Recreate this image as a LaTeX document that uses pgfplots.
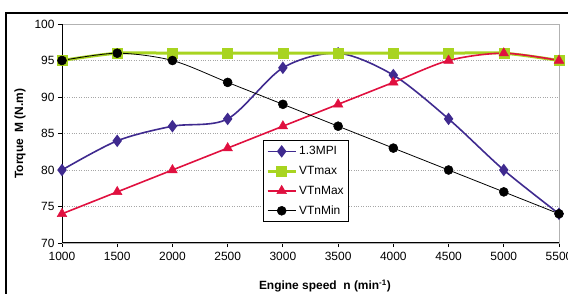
\documentclass[border=0pt]{standalone}
\usepackage{pgfplots}
\pgfplotsset{compat=1.18}
\usepackage{fontspec}
\setmainfont{Liberation Sans}
\definecolor{mpi}{HTML}{3F2A8F}
\definecolor{vtmax}{HTML}{A8D420}
\definecolor{vtnmax}{HTML}{E0103F}
\begin{document}
\begin{tikzpicture}
\clip (0,0) rectangle (568bp,294bp);
\draw[black, line width=1.3bp] (6bp,0) -- (6bp,281bp) -- (570bp,281bp);
\begin{axis}[
  at={(62bp,51bp)}, anchor=south west,
  scale only axis, width=497bp, height=219bp,
  xmin=1000, xmax=5500, ymin=70, ymax=100,
  xtick={1000,1500,...,5500}, ytick={70,75,...,100},
  xtick pos=bottom, ytick pos=left,
  tick align=outside, major tick length=4bp,
  tick style={black, line width=0.8bp},
  axis line style={draw=gray!60, line width=0.8bp},
  ymajorgrids, grid style={dotted, gray!70, line width=0.7bp},
  /pgf/number format/assume math mode=true,
  /pgf/number format/set thousands separator={},
  tick label style={font=\fontsize{12}{14}\selectfont},
  xticklabel style={yshift=-2bp},
  clip=false,
  every axis y label/.style={at={(axis description cs:-0.0845,0.5)}, rotate=90, anchor=center, font=\fontsize{12}{14}\selectfont\bfseries},
  every axis x label/.style={at={(axis description cs:0.529,-0.2146)}, anchor=base, font=\fontsize{12}{14}\selectfont\bfseries},
  ylabel={Torque\ \ M (N.m)},
  xlabel={Engine speed\ \ n (min\textsuperscript{-1})},
  legend cell align=left,
  legend style={at={(0.404,0.470)}, anchor=north west, draw=black, line width=0.8bp,
    font=\fontsize{12}{14}\selectfont, row sep=6bp, inner xsep=3bp, inner ysep=4bp},
  legend image code/.code={\draw[mark repeat=2,mark phase=2,#1] plot coordinates {(0bp,0bp) (14bp,0bp) (28bp,0bp)};},
]
\addplot[smooth, mpi, line width=1.6bp, mark=diamond*, mark size=5bp, mark options={solid}] coordinates {
(1000,80) (1500,84) (2000,86) (2500,87) (3000,94) (3500,96) (4000,93) (4500,87) (5000,80) (5500,74)};
\addlegendentry{1.3MPI}
\addplot[smooth, vtmax, line width=3bp, mark=square*, mark size=5bp, mark options={line width=0.5bp}] coordinates {
(1000,95) (1500,96) (2000,96) (2500,96) (3000,96) (3500,96) (4000,96) (4500,96) (5000,96) (5500,95)};
\addlegendentry{VTmax}
\addplot[smooth, vtnmax, line width=1.6bp, mark=triangle*, mark size=5.5bp, mark options={line width=0.5bp}] coordinates {
(1000,74) (1500,77) (2000,80) (2500,83) (3000,86) (3500,89) (4000,92) (4500,95) (5000,96) (5500,95)};
\addlegendentry{VTnMax}
\addplot[smooth, black, line width=0.8bp, mark=*, mark size=4.5bp, mark options={line width=0.5bp}] coordinates {
(1000,95) (1500,96) (2000,95) (2500,92) (3000,89) (3500,86) (4000,83) (4500,80) (5000,77) (5500,74)};
\addlegendentry{VTnMin}
\draw[black, line width=1bp] (rel axis cs:0,1) -- (rel axis cs:0,0) -- (rel axis cs:1,0);
\end{axis}
\end{tikzpicture}
\end{document}
